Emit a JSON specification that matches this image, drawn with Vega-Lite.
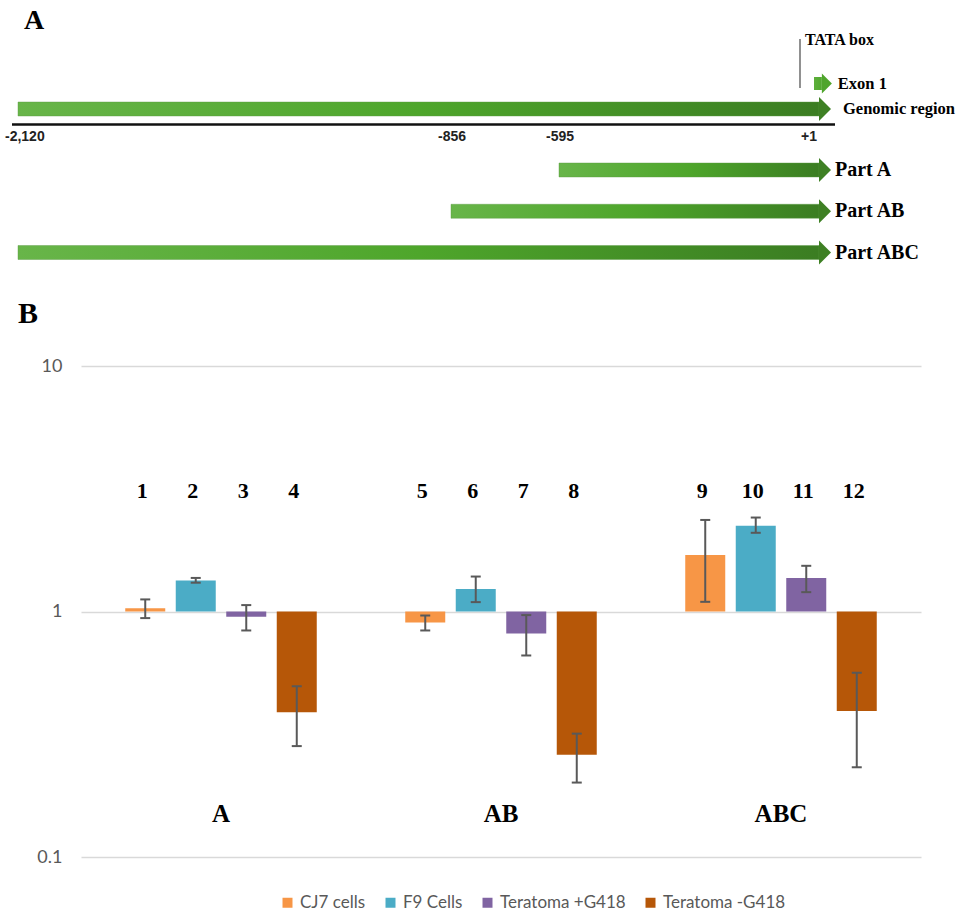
{
  "$schema": "https://vega.github.io/schema/vega-lite/v6.json",
  "autosize": {"type": "none"},
  "padding": {"left": 81, "top": 366, "right": 36, "bottom": 58},
  "width": 840,
  "height": 491,
  "background": "white",
  "config": {"view": {"stroke": null}, "font": "Lato"},
  "datasets": {
    "bars": [
      {"num": "1", "group": "A", "series": "CJ7 cells", "value": 1.03, "lo": 0.94, "hi": 1.12},
      {"num": "2", "group": "A", "series": "F9 Cells", "value": 1.338, "lo": 1.31, "hi": 1.37},
      {"num": "3", "group": "A", "series": "Teratoma +G418", "value": 0.951, "lo": 0.837, "hi": 1.062},
      {"num": "4", "group": "A", "series": "Teratoma -G418", "value": 0.389, "lo": 0.283, "hi": 0.496},
      {"num": "5", "group": "AB", "series": "CJ7 cells", "value": 0.902, "lo": 0.837, "hi": 0.963},
      {"num": "6", "group": "AB", "series": "F9 Cells", "value": 1.234, "lo": 1.092, "hi": 1.388},
      {"num": "7", "group": "AB", "series": "Teratoma +G418", "value": 0.814, "lo": 0.662, "hi": 0.967},
      {"num": "8", "group": "AB", "series": "Teratoma -G418", "value": 0.261, "lo": 0.201, "hi": 0.318},
      {"num": "9", "group": "ABC", "series": "CJ7 cells", "value": 1.697, "lo": 1.095, "hi": 2.36},
      {"num": "10", "group": "ABC", "series": "F9 Cells", "value": 2.233, "lo": 2.092, "hi": 2.414},
      {"num": "11", "group": "ABC", "series": "Teratoma +G418", "value": 1.368, "lo": 1.199, "hi": 1.535},
      {"num": "12", "group": "ABC", "series": "Teratoma -G418", "value": 0.393, "lo": 0.232, "hi": 0.563}
    ],
    "groups": [{"group": "A"}, {"group": "AB"}, {"group": "ABC"}],
    "genomic": [{"name": "Genomic region", "start": -2120, "end": 1}],
    "exon": [{"name": "Exon 1", "start": 1, "end": 38}],
    "parts": [
      {"name": "Part A", "start": -595, "end": 1},
      {"name": "Part AB", "start": -856, "end": 1},
      {"name": "Part ABC", "start": -2120, "end": 1}
    ],
    "tata": [{"name": "TATA box", "pos": -30}],
    "ticks": [
      {"pos": -2120, "label": "-2,120"},
      {"pos": -856, "label": "-856"},
      {"pos": -595, "label": "-595"},
      {"pos": 1, "label": "+1"}
    ],
    "panels": [{"panel": "A"}, {"panel": "B"}]
  },
  "layer": [
    {
      "data": {"name": "bars"},
      "layer": [
        {
          "mark": {"type": "bar"},
          "encoding": {
            "x": {"field": "group", "type": "nominal", "scale": {"domain": ["A", "AB", "ABC"], "paddingInner": 0, "paddingOuter": 0}, "axis": null},
            "xOffset": {"field": "series", "type": "nominal", "scale": {"domain": ["CJ7 cells", "F9 Cells", "Teratoma +G418", "Teratoma -G418"], "paddingInner": 0.208, "paddingOuter": 0.876}},
            "y": {"field": "value", "type": "quantitative", "scale": {"type": "log", "domain": [0.1, 10], "nice": false},
              "axis": {"title": null, "values": [0.1, 1, 10], "format": "~g", "grid": true, "gridColor": "#D9D9D9", "gridWidth": 1.5, "domain": false, "ticks": false, "labelColor": "#595959", "labelFont": "Lato", "labelFontSize": 18, "labelPadding": 19}},
            "y2": {"datum": 1},
            "color": {"field": "series", "type": "nominal",
              "scale": {"domain": ["CJ7 cells", "F9 Cells", "Teratoma +G418", "Teratoma -G418"], "range": ["#F79646", "#4BACC6", "#8064A2", "#B65708"]},
              "legend": {"orient": "none", "legendX": 198, "legendY": 528, "direction": "horizontal", "title": null, "symbolType": "square", "symbolSize": 100, "symbolStrokeWidth": 0, "labelFont": "Lato", "labelFontSize": 17, "labelColor": "#595959", "columnPadding": 16, "labelOffset": 4, "padding": 0}}
          }
        },
        {
          "mark": {"type": "rule", "color": "#595959", "strokeWidth": 2},
          "encoding": {
            "x": {"field": "group", "type": "nominal"},
            "xOffset": {"field": "series", "type": "nominal"},
            "y": {"field": "lo", "type": "quantitative", "title": null},
            "y2": {"field": "hi"}
          }
        },
        {
          "mark": {"type": "tick", "color": "#595959", "thickness": 2, "size": 10, "opacity": 1},
          "encoding": {
            "x": {"field": "group", "type": "nominal"},
            "xOffset": {"field": "series", "type": "nominal"},
            "y": {"field": "lo", "type": "quantitative", "title": null}
          }
        },
        {
          "mark": {"type": "tick", "color": "#595959", "thickness": 2, "size": 10, "opacity": 1},
          "encoding": {
            "x": {"field": "group", "type": "nominal"},
            "xOffset": {"field": "series", "type": "nominal"},
            "y": {"field": "hi", "type": "quantitative", "title": null}
          }
        },
        {
          "mark": {"type": "text", "font": "Liberation Serif", "fontWeight": "bold", "fontSize": 22, "baseline": "middle", "color": "#000000", "dx": -3},
          "encoding": {
            "x": {"field": "group", "type": "nominal"},
            "xOffset": {"field": "series", "type": "nominal"},
            "y": {"datum": 3.09, "type": "quantitative"},
            "text": {"field": "num"}
          }
        },
        {
          "data": {"name": "groups"},
          "mark": {"type": "text", "font": "Liberation Serif", "fontWeight": "bold", "fontSize": 25, "baseline": "middle", "color": "#000000"},
          "encoding": {
            "x": {"field": "group", "type": "nominal"},
            "y": {"datum": 0.149, "type": "quantitative"},
            "text": {"field": "group"}
          }
        }
      ]
    },
    {
      "layer": [
        {
          "layer": [
            {
              "data": {"name": "parts"},
              "mark": {"type": "bar", "height": 14, "x2Offset": 5, "stroke": "#5C9A45", "strokeWidth": 0.6, "strokeOpacity": 0.7, "color": {"gradient": "linear", "stops": [{"offset": 0, "color": "#68B549"}, {"offset": 0.5, "color": "#4EA62B"}, {"offset": 1, "color": "#3B7D22"}]}},
              "encoding": {
                "x": {"field": "start", "type": "quantitative", "scale": {"domain": [-2120, -856, -595, -30, 1, 100], "range": [-63, 370, 478, 719, 733, 754], "nice": false, "zero": false}, "axis": null},
                "x2": {"field": "end"},
                "y": {"field": "name", "type": "nominal", "scale": {"type": "point", "domain": ["Part A", "Part AB", "Part ABC"], "range": [-196, -113.5], "padding": 0}, "axis": null}
              }
            },
            {
              "data": {"name": "parts"},
              "mark": {"type": "point", "shape": "M -0.5,-1 L 0.5,0 L -0.5,1 Z", "size": 576, "filled": true, "color": "#3E8024", "opacity": 1, "xOffset": 11},
              "encoding": {
                "x": {"field": "end", "type": "quantitative"},
                "y": {"field": "name", "type": "nominal"}
              }
            },
            {
              "data": {"name": "parts"},
              "mark": {"type": "text", "align": "left", "baseline": "middle", "dx": 21, "font": "Liberation Serif", "fontWeight": "bold", "fontSize": 20, "color": "#000000"},
              "encoding": {
                "x": {"field": "end", "type": "quantitative"},
                "y": {"field": "name", "type": "nominal"},
                "text": {"field": "name"}
              }
            },
            {
              "data": {"name": "panels"},
              "transform": [{"filter": "datum.panel === 'B'"}],
              "mark": {"type": "text", "align": "left", "baseline": "middle", "dy": 61, "font": "Liberation Serif", "fontWeight": "bold", "fontSize": 30, "color": "#000000"},
              "encoding": {
                "x": {"datum": -2120, "type": "quantitative"},
                "y": {"datum": "Part ABC", "type": "nominal"},
                "text": {"field": "panel"}
              }
            }
          ]
        },
        {
          "layer": [
            {
              "data": {"name": "genomic"},
              "mark": {"type": "bar", "height": 14, "x2Offset": 5, "stroke": "#5C9A45", "strokeWidth": 0.6, "strokeOpacity": 0.7, "color": {"gradient": "linear", "stops": [{"offset": 0, "color": "#68B549"}, {"offset": 0.5, "color": "#4EA62B"}, {"offset": 1, "color": "#3B7D22"}]}},
              "encoding": {
                "x": {"field": "start", "type": "quantitative", "scale": {"domain": [-2120, -856, -595, -30, 1, 100], "range": [-63, 370, 478, 719, 733, 754], "nice": false, "zero": false}, "axis": null},
                "x2": {"field": "end"},
                "y": {"field": "name", "type": "nominal", "scale": {"type": "point", "domain": ["Exon 1", "Genomic region"], "range": [-282.5, -257], "padding": 0}, "axis": null}
              }
            },
            {
              "data": {"name": "genomic"},
              "mark": {"type": "point", "shape": "M -0.5,-1 L 0.5,0 L -0.5,1 Z", "size": 576, "filled": true, "color": "#3E8024", "opacity": 1, "xOffset": 11},
              "encoding": {
                "x": {"field": "end", "type": "quantitative"},
                "y": {"field": "name", "type": "nominal"}
              }
            },
            {
              "data": {"name": "genomic"},
              "mark": {"type": "text", "align": "left", "baseline": "middle", "dx": 29, "font": "Liberation Serif", "fontWeight": "bold", "fontSize": 16.5, "color": "#000000"},
              "encoding": {
                "x": {"field": "end", "type": "quantitative"},
                "y": {"field": "name", "type": "nominal"},
                "text": {"field": "name"}
              }
            },
            {
              "data": {"name": "exon"},
              "mark": {"type": "bar", "height": 13, "color": {"gradient": "linear", "stops": [{"offset": 0, "color": "#5DAF3C"}, {"offset": 1, "color": "#52A82F"}]}},
              "encoding": {
                "x": {"field": "start", "type": "quantitative"},
                "x2": {"field": "end"},
                "y": {"field": "name", "type": "nominal"}
              }
            },
            {
              "data": {"name": "exon"},
              "mark": {"type": "point", "shape": "M -0.5,-1 L 0.5,0 L -0.5,1 Z", "size": 400, "filled": true, "color": "#4FA52C", "opacity": 1, "xOffset": 5},
              "encoding": {
                "x": {"field": "end", "type": "quantitative"},
                "y": {"field": "name", "type": "nominal"}
              }
            },
            {
              "data": {"name": "exon"},
              "mark": {"type": "text", "align": "left", "baseline": "middle", "dx": 16, "font": "Liberation Serif", "fontWeight": "bold", "fontSize": 16.5, "color": "#000000"},
              "encoding": {
                "x": {"field": "end", "type": "quantitative"},
                "y": {"field": "name", "type": "nominal"},
                "text": {"field": "name"}
              }
            },
            {
              "data": {"name": "tata"},
              "mark": {"type": "rule", "color": "#555555", "strokeWidth": 1.3, "yOffset": -44.5, "y2Offset": 4.5},
              "encoding": {
                "x": {"field": "pos", "type": "quantitative"},
                "y": {"datum": "Exon 1", "type": "nominal"},
                "y2": {"datum": "Exon 1"}
              }
            },
            {
              "data": {"name": "tata"},
              "mark": {"type": "text", "align": "left", "baseline": "middle", "dx": 5, "dy": -43.5, "font": "Liberation Serif", "fontWeight": "bold", "fontSize": 16, "color": "#000000"},
              "encoding": {
                "x": {"field": "pos", "type": "quantitative"},
                "y": {"datum": "Exon 1", "type": "nominal"},
                "text": {"field": "name"}
              }
            },
            {
              "data": {"name": "genomic"},
              "mark": {"type": "rule", "color": "#111111", "strokeWidth": 2.5, "xOffset": -6, "x2Offset": 21, "yOffset": 15.5},
              "encoding": {
                "x": {"field": "start", "type": "quantitative"},
                "x2": {"field": "end"},
                "y": {"datum": "Genomic region", "type": "nominal"}
              }
            },
            {
              "data": {"name": "ticks"},
              "mark": {"type": "text", "align": "left", "baseline": "middle", "dx": -13, "dy": 27.5, "font": "Liberation Sans", "fontWeight": "bold", "fontSize": 14, "color": "#222222"},
              "encoding": {
                "x": {"field": "pos", "type": "quantitative"},
                "y": {"datum": "Genomic region", "type": "nominal"},
                "text": {"field": "label"}
              }
            },
            {
              "data": {"name": "panels"},
              "transform": [{"filter": "datum.panel === 'A'"}],
              "mark": {"type": "text", "align": "left", "baseline": "middle", "dx": 6, "dy": -62.5, "font": "Liberation Serif", "fontWeight": "bold", "fontSize": 28, "color": "#000000"},
              "encoding": {
                "x": {"datum": -2120, "type": "quantitative"},
                "y": {"datum": "Exon 1", "type": "nominal"},
                "text": {"field": "panel"}
              }
            }
          ]
        }
      ],
      "resolve": {"scale": {"y": "independent"}}
    }
  ],
  "resolve": {"scale": {"x": "independent", "y": "independent"}}
}
